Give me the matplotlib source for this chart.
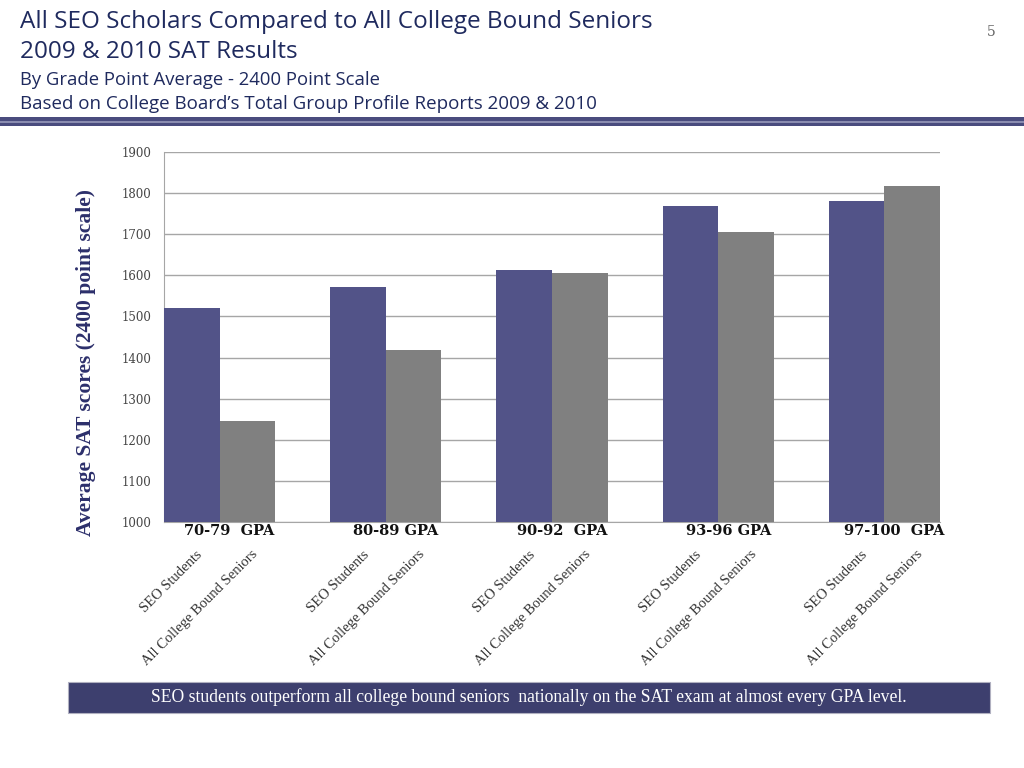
import matplotlib.pyplot as plt
import matplotlib.patches as mpatches
import numpy as np

navy = '#1f2a5e'
seo_color = '#525388'
grey_color = '#808080'
box_color = '#3d3f6e'

gpa_labels = ['70-79  GPA', '80-89 GPA', '90-92  GPA', '93-96 GPA', '97-100  GPA']
seo_scores = [1520, 1572, 1613, 1769, 1781]
all_scores = [1246, 1418, 1606, 1705, 1817]
series_names = ['SEO Students', 'All College Bound Seniors']
y_ticks = [1000, 1100, 1200, 1300, 1400, 1500, 1600, 1700, 1800, 1900]

fig = plt.figure(figsize=(10.24, 7.68), dpi=100, facecolor='white')

# header text
fig.text(0.02, 0.972, 'All SEO Scholars Compared to All College Bound Seniors',
         fontsize=17.5, color=navy, family='Open Sans', va='center')
fig.text(0.02, 0.932, '2009 & 2010 SAT Results',
         fontsize=17.5, color=navy, family='Open Sans', va='center')
fig.text(0.02, 0.896, 'By Grade Point Average - 2400 Point Scale',
         fontsize=13.3, color=navy, family='Open Sans', va='center')
fig.text(0.02, 0.864, 'Based on College Board\u2019s Total Group Profile Reports 2009 & 2010',
         fontsize=13.5, color=navy, family='Open Sans', va='center')
fig.text(0.964, 0.958, '5', fontsize=10, color='#666666', family='DejaVu Serif', va='center')

# header rule
fig.patches.append(mpatches.Rectangle((0, 1 - 126 / 768), 1, 9 / 768, transform=fig.transFigure,
                                      facecolor='#4a4c7e', edgecolor='none'))
fig.patches.append(mpatches.Rectangle((0, 1 - 122.5 / 768), 1, 1.5 / 768, transform=fig.transFigure,
                                      facecolor='#8a8cb0', edgecolor='none'))

ax = fig.add_axes([164 / 1024, 1 - 522 / 768, 776 / 1024, 370 / 768])
x = np.arange(len(gpa_labels))
w = 0.334
ax.bar(x + w / 2, seo_scores, width=w, color=seo_color, zorder=3)
ax.bar(x + w * 1.5, all_scores, width=w, color=grey_color, zorder=3)

ax.set_ylim(1000, 1900)
ax.set_xlim(0, 4 + 2 * w)
ax.set_yticks(y_ticks)
ax.set_yticklabels([str(t) for t in y_ticks], family='DejaVu Serif', fontsize=8.5, color='#444444')
ax.tick_params(axis='y', length=0, pad=9)
ax.set_xticks([])
ax.grid(axis='y', color='#a6a6a6', linewidth=1, zorder=0)
for side in ['top', 'right']:
    ax.spines[side].set_visible(False)
ax.spines['left'].set_color('#a6a6a6')
ax.spines['bottom'].set_color('#a6a6a6')

ax.set_ylabel('Average SAT scores (2400 point scale)', family='Liberation Serif', fontsize=15.5,
              fontweight='bold', color='#2c2f6b')
ax.yaxis.set_label_coords(-0.088, 0.432)

for i, lab in enumerate(gpa_labels):
    ax.text(i + w + 0.06, -0.006, lab, transform=ax.get_xaxis_transform(), ha='center', va='top',
            family='DejaVu Serif', fontsize=10.5, fontweight='bold', color='#111111')
    for j, name in enumerate(series_names):
        ax.text(i + w * (j + 0.5) + 0.08, -0.07, name, transform=ax.get_xaxis_transform(),
                rotation=45, ha='right', va='top', family='Liberation Serif', fontsize=10.5,
                color='#333333')

# bottom summary box
fig.patches.append(mpatches.Rectangle((68 / 1024, 1 - 713 / 768), 922 / 1024, 31 / 768,
                                      transform=fig.transFigure, facecolor=box_color,
                                      edgecolor='#b0b0c0', linewidth=0.8))
fig.text(529 / 1024, 1 - 697.5 / 768,
         'SEO students outperform all college bound seniors  nationally on the SAT exam at almost every GPA level.',
         ha='center', va='center', color='white', family='Liberation Serif', fontsize=12.7)

fig.savefig('out.png', dpi=100, facecolor='white')
